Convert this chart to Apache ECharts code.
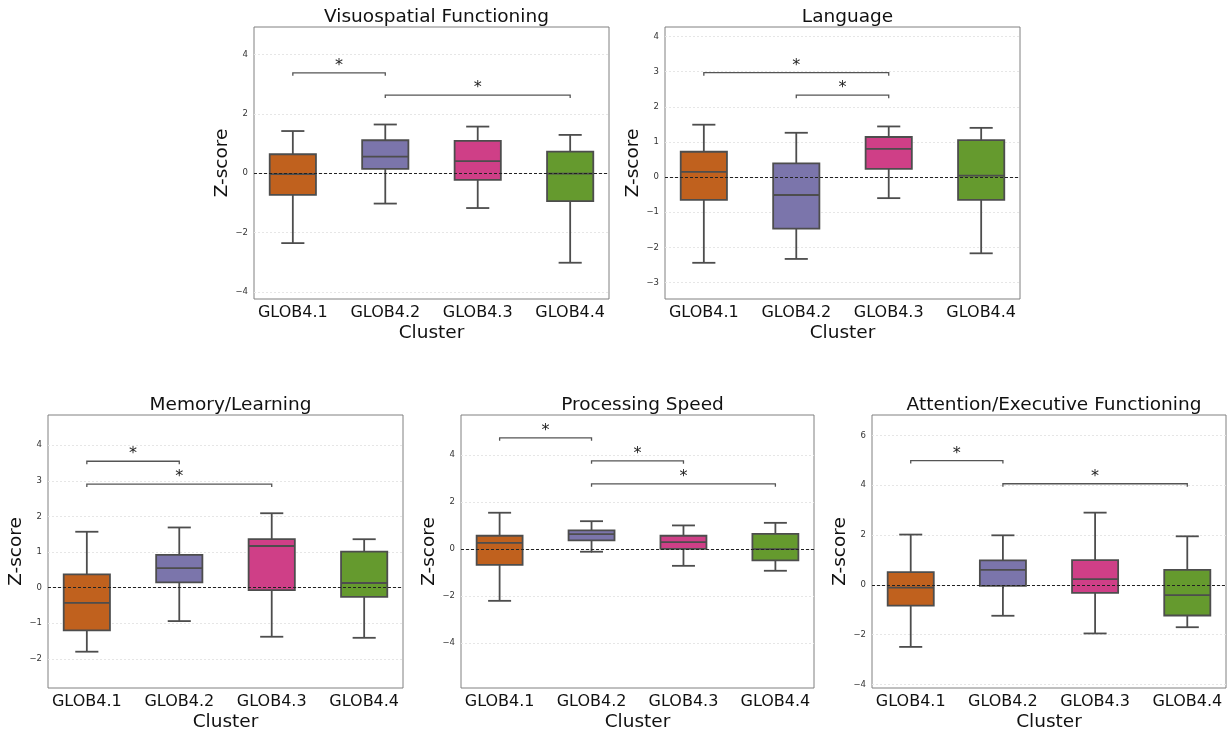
<!DOCTYPE html>
<html>
<head>
<meta charset="utf-8">
<script src="https://cdn.jsdelivr.net/npm/echarts@6/dist/echarts.min.js"></script>
<style>
  html, body { margin: 0; padding: 0; background: #fff; }
  #chart { width: 1229px; height: 733px; }
</style>
</head>
<body>
<div id="chart"></div>
<script>
var clusters = ['GLOB4.1', 'GLOB4.2', 'GLOB4.3', 'GLOB4.4'];
var boxColors = ['#c0611e', '#7b75ab', '#cf3f87', '#659a2e'];

// box stats per cluster: [min, Q1, median, Q3, max]
var visuoStats = [
  [-2.35, -0.73, -0.03, 0.64, 1.42],
  [-1.02, 0.15, 0.56, 1.11, 1.64],
  [-1.17, -0.22, 0.41, 1.09, 1.57],
  [-3.01, -0.94, -0.01, 0.73, 1.29]
];
var languageStats = [
  [-2.44, -0.65, 0.15, 0.72, 1.49],
  [-2.33, -1.47, -0.51, 0.39, 1.26],
  [-0.60, 0.23, 0.80, 1.14, 1.44],
  [-2.17, -0.65, 0.04, 1.05, 1.40]
];
var memoryStats = [
  [-1.80, -1.20, -0.43, 0.37, 1.57],
  [-0.94, 0.15, 0.55, 0.92, 1.69],
  [-1.38, -0.07, 1.17, 1.36, 2.09],
  [-1.41, -0.26, 0.13, 1.01, 1.36]
];
var speedStats = [
  [-2.20, -0.67, 0.27, 0.57, 1.55],
  [-0.11, 0.37, 0.64, 0.80, 1.19],
  [-0.71, 0.01, 0.30, 0.57, 1.01],
  [-0.92, -0.48, 0.00, 0.65, 1.12]
];
var attentionStats = [
  [-2.49, -0.83, -0.11, 0.51, 2.02],
  [-1.24, -0.04, 0.60, 0.98, 1.99],
  [-1.95, -0.32, 0.23, 0.99, 2.90],
  [-1.70, -1.23, -0.41, 0.60, 1.95]
];

// significance brackets: [from cluster, to cluster, height]
var visuoSig = [[0, 1, 3.38], [1, 3, 2.63]];
var languageSig = [[0, 2, 2.97], [1, 2, 2.33]];
var memorySig = [[0, 1, 3.55], [0, 2, 2.91]];
var speedSig = [[0, 1, 4.74], [1, 2, 3.76], [1, 3, 2.78]];
var attentionSig = [[0, 1, 4.99], [1, 3, 4.06]];

// y tick labels
var visuoTicks = [-4, -2, 0, 2, 4];
var languageTicks = [-3, -2, -1, 0, 1, 2, 3, 4];
var memoryTicks = [-2, -1, 0, 1, 2, 3, 4];
var speedTicks = [-4, -2, 0, 2, 4];
var attentionTicks = [-4, -2, 0, 2, 4, 6];

var panels = [
  { title: 'Visuospatial Functioning', stats: visuoStats, sig: visuoSig, ticks: visuoTicks,
    left: 254, top: 27, width: 355, height: 272, ymin: -4.23, ymax: 4.92 },
  { title: 'Language', stats: languageStats, sig: languageSig, ticks: languageTicks,
    left: 665, top: 27, width: 355, height: 272, ymin: -3.47, ymax: 4.27 },
  { title: 'Memory/Learning', stats: memoryStats, sig: memorySig, ticks: memoryTicks,
    left: 48, top: 415, width: 355, height: 273, ymin: -2.82, ymax: 4.85 },
  { title: 'Processing Speed', stats: speedStats, sig: speedSig, ticks: speedTicks,
    left: 461, top: 415, width: 353, height: 273, ymin: -5.91, ymax: 5.71 },
  { title: 'Attention/Executive Functioning', stats: attentionStats, sig: attentionSig, ticks: attentionTicks,
    left: 872, top: 415, width: 354, height: 273, ymin: -4.14, ymax: 6.82 }
];

var FONT = 'DejaVu Sans';
var EDGE = '#4d4d4d';

function renderBox (params, api) {
  var x = api.value(0);
  var lo = api.coord([x, api.value(1)]);
  var q1 = api.coord([x, api.value(2)]);
  var med = api.coord([x, api.value(3)]);
  var q3 = api.coord([x, api.value(4)]);
  var hi = api.coord([x, api.value(5)]);
  var w = api.size([0.5, 0])[0];
  var cx = q1[0];
  var ls = { stroke: EDGE, lineWidth: 1.8 };
  return {
    type: 'group',
    children: [
      { type: 'line', shape: { x1: cx, y1: q3[1], x2: cx, y2: hi[1] }, style: ls },
      { type: 'line', shape: { x1: cx, y1: q1[1], x2: cx, y2: lo[1] }, style: ls },
      { type: 'line', shape: { x1: cx - w / 4, y1: hi[1], x2: cx + w / 4, y2: hi[1] }, style: ls },
      { type: 'line', shape: { x1: cx - w / 4, y1: lo[1], x2: cx + w / 4, y2: lo[1] }, style: ls },
      { type: 'rect', shape: { x: cx - w / 2, y: q3[1], width: w, height: q1[1] - q3[1] },
        style: { fill: boxColors[x], stroke: EDGE, lineWidth: 1.8 } },
      { type: 'line', shape: { x1: cx - w / 2, y1: med[1], x2: cx + w / 2, y2: med[1] }, style: ls }
    ]
  };
}

function renderBracket (params, api) {
  var a = api.coord([api.value(0), api.value(2)]);
  var b = api.coord([api.value(1), api.value(2)]);
  return {
    type: 'group',
    children: [
      { type: 'polyline',
        shape: { points: [[a[0], a[1] + 3], [a[0], a[1]], [b[0], b[1]], [b[0], b[1] + 3]] },
        style: { stroke: '#555', lineWidth: 1.3, fill: null } },
      { type: 'text',
        style: { x: (a[0] + b[0]) / 2, y: a[1] - 7, text: '*', fill: '#222',
          font: '16px "DejaVu Sans"', align: 'center', verticalAlign: 'middle' } }
    ]
  };
}

var option = {
  animation: false,
  backgroundColor: '#fff',
  title: [],
  grid: [],
  xAxis: [],
  yAxis: [],
  series: []
};

panels.forEach(function (p, k) {
  option.title.push({
    text: p.title,
    left: p.left + p.width / 2,
    top: p.top - 24,
    textAlign: 'center',
    textStyle: { fontFamily: FONT, fontSize: 18.5, fontWeight: 'normal', color: '#111' }
  });
  option.grid.push({
    left: p.left, top: p.top, width: p.width, height: p.height,
    show: true, borderColor: '#808080', borderWidth: 1, containLabel: false
  });
  option.xAxis.push({
    type: 'value', gridIndex: k, min: -0.42, max: 3.42,
    name: 'Cluster', nameLocation: 'middle', nameGap: 25,
    nameTextStyle: { fontFamily: FONT, fontSize: 18.5, color: '#111' },
    axisLine: { show: false },
    splitLine: { show: false },
    axisTick: { show: true, customValues: [0, 1, 2, 3], length: 3.5, lineStyle: { color: '#555' } },
    axisLabel: {
      customValues: [0, 1, 2, 3], margin: 6,
      fontFamily: FONT, fontSize: 16, color: '#111',
      formatter: function (v) { return clusters[Math.round(v)]; }
    }
  });
  option.yAxis.push({
    type: 'value', gridIndex: k, min: p.ymin, max: p.ymax,
    name: 'Z-score', nameLocation: 'middle', nameGap: 21,
    nameTextStyle: { fontFamily: FONT, fontSize: 18.5, color: '#111' },
    axisLine: { show: false },
    axisTick: { show: false, customValues: p.ticks },
    axisLabel: { customValues: p.ticks, margin: 6, fontFamily: FONT, fontSize: 8.5, color: '#333',
      formatter: function (v) { return v < 0 ? '\u2212' + Math.abs(v) : String(v); } },
    splitLine: { show: true, lineStyle: { color: '#e6e6e6', type: [2, 2], width: 1 } }
  });
  option.series.push({
    type: 'custom', xAxisIndex: k, yAxisIndex: k, z: 2,
    renderItem: renderBox,
    encode: { x: 0, y: [1, 2, 3, 4, 5] },
    data: p.stats.map(function (s, i) { return [i].concat(s); }),
    markLine: {
      silent: true, symbol: 'none', label: { show: false },
      lineStyle: { color: '#222', type: [3, 2], width: 1 },
      data: [{ yAxis: 0 }]
    }
  });
  option.series.push({
    type: 'custom', xAxisIndex: k, yAxisIndex: k, z: 3,
    renderItem: renderBracket,
    encode: { x: [0, 1], y: 2 },
    data: p.sig
  });
});

var myChart = echarts.init(document.getElementById('chart'));
myChart.setOption(option);
</script>
</body>
</html>
